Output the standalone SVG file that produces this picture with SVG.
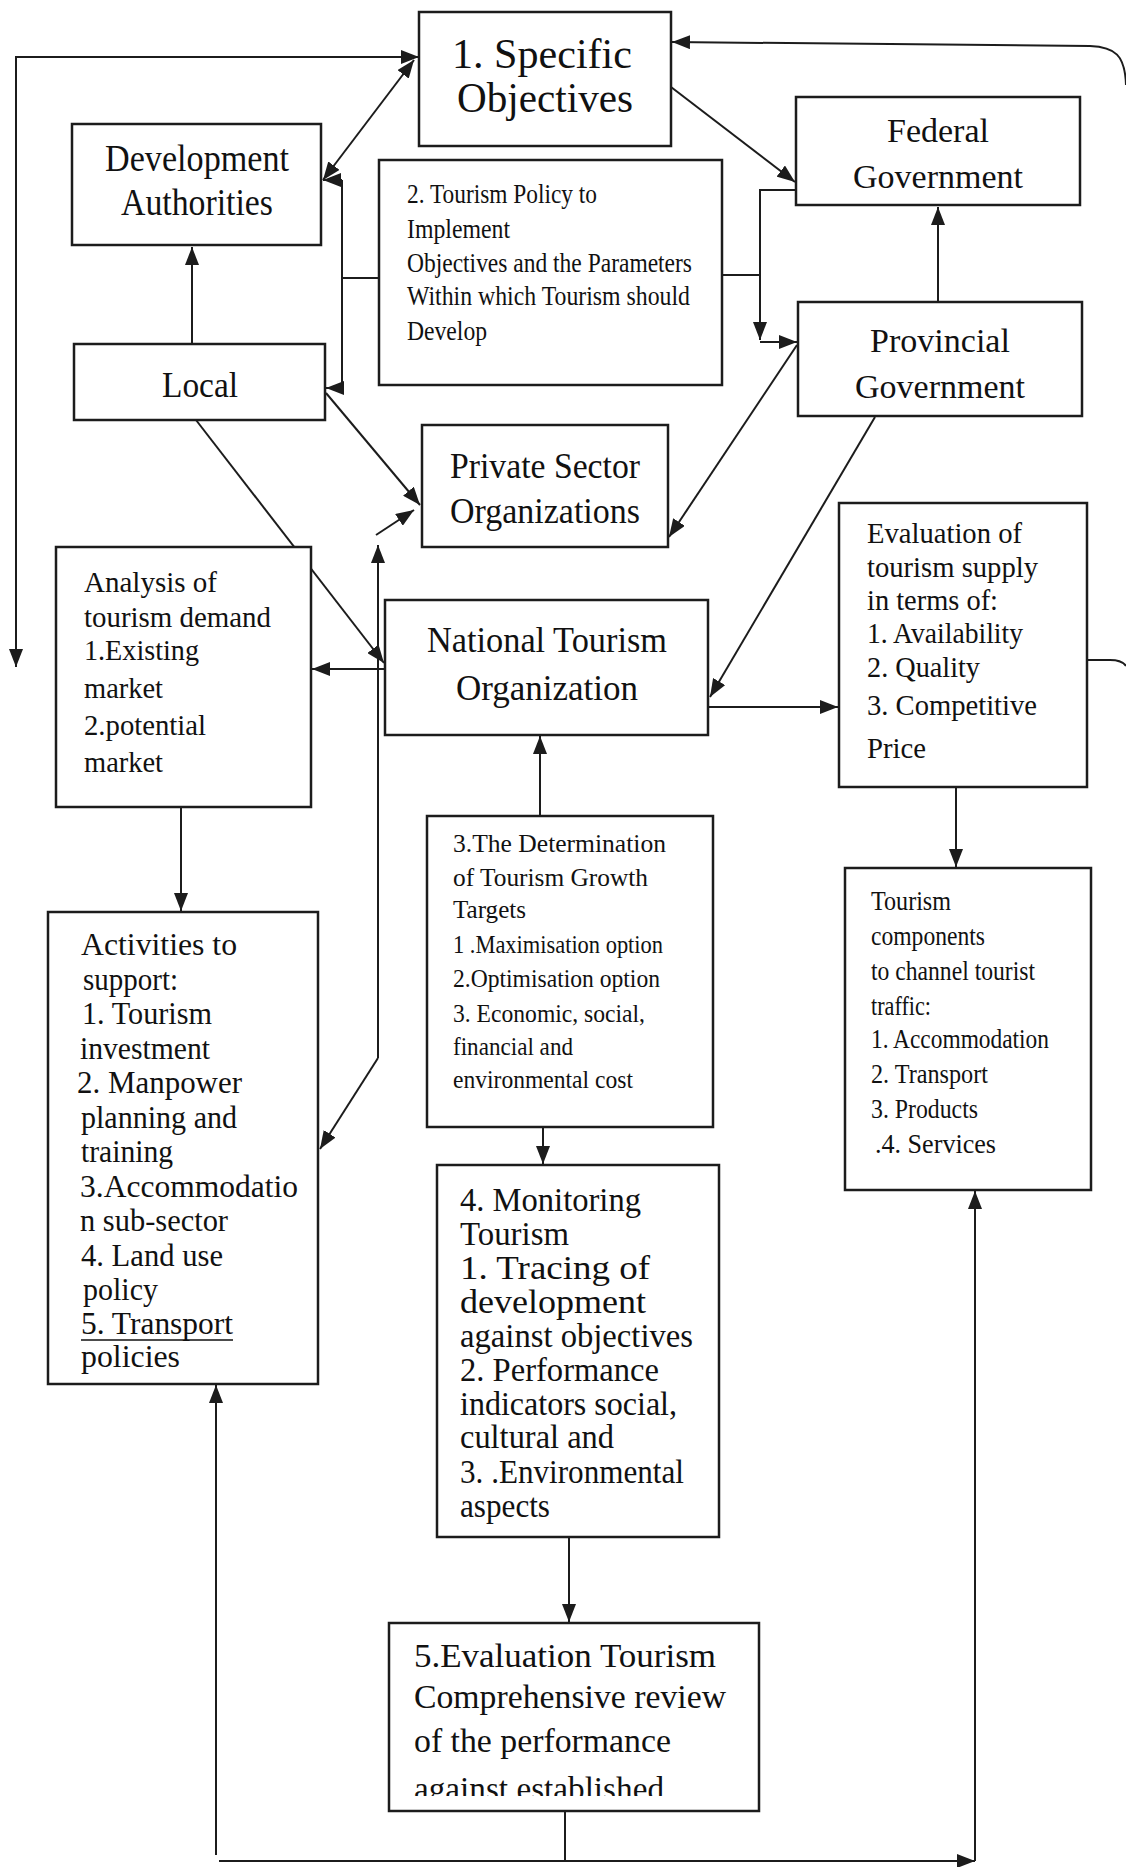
<svg xmlns="http://www.w3.org/2000/svg" width="1126" height="1867" viewBox="0 0 1126 1867">
<style>
.bx{fill:#fff;stroke:#1c1c1c;stroke-width:2.5}
.t{font-family:"Liberation Serif","Times New Roman",serif;fill:#111}
.c{text-anchor:middle}
.ln{fill:none;stroke:#1c1c1c;stroke-width:2}
.a{marker-end:url(#ah)}
.a2{marker-start:url(#ah);marker-end:url(#ah)}
</style>
<defs>
<marker id="ah" viewBox="0 0 18 14" refX="18" refY="7" markerWidth="18" markerHeight="14" markerUnits="userSpaceOnUse" orient="auto-start-reverse">
<path d="M0,0 L18,7 L0,14 Z" fill="#1c1c1c"/>
</marker>
<clipPath id="clip5"><rect x="389" y="1623" width="370" height="173"/></clipPath>
</defs>
<rect width="1126" height="1867" fill="#fff"/>

<g id="connectors">
<path class="ln a2" d="M419,57 H16 V667"/>
<path class="ln a" d="M1126,85 C1125,55 1115,47 1090,46 L672,42"/>
<path class="ln" d="M1087,660 H1110 Q1122,660 1126,666"/>
<path class="ln a2" d="M323,180 L414,60"/>
<path class="ln" d="M342,180 V388 M342,278 H379"/>
<path class="ln a" d="M342,180 H323"/>
<path class="ln a" d="M342,388 H326"/>
<path class="ln a" d="M192,344 V247"/>
<path class="ln a" d="M671,87 L795,182"/>
<path class="ln a" d="M796,190 H760 V340"/>
<path class="ln a" d="M760,342 H797"/>
<path class="ln" d="M722,275 H760"/>
<path class="ln a" d="M938,302 V207"/>
<path class="ln a" d="M797,345 L669,537"/>
<path class="ln a" d="M875,417 L710,697"/>
<path class="ln a" d="M708,707 H838"/>
<path class="ln a" d="M956,745 V867"/>
<path class="ln a" d="M326,393 L420,505"/>
<path class="ln a" d="M196,420 L384,663"/>
<path class="ln a" d="M385,669 H312"/>
<path class="ln a" d="M181,807 V911"/>
<path class="ln a" d="M378,1058 V545"/>
<path class="ln a" d="M378,1058 L320,1149"/>
<path class="ln a" d="M376,535 L414,510"/>
<path class="ln a" d="M540,816 V736"/>
<path class="ln a" d="M543,1127 V1164"/>
<path class="ln a" d="M569,1537 V1622"/>
<path class="ln" d="M565,1811 V1861"/>
<path class="ln a" d="M219,1861 H975"/>
<path class="ln a" d="M975,1861 V1191"/>
<path class="ln a" d="M216,1855 V1385"/>
</g>

<g id="n1">
<rect class="bx" x="419" y="12" width="252" height="134"/>
<text class="t c" x="542" y="68" font-size="42" textLength="180" lengthAdjust="spacingAndGlyphs">1. Specific</text>
<text class="t c" x="545" y="112" font-size="42" textLength="176" lengthAdjust="spacingAndGlyphs">Objectives</text>
</g>

<g id="n-dev">
<rect class="bx" x="72" y="124" width="249" height="121"/>
<text class="t c" x="197" y="171" font-size="37" textLength="184" lengthAdjust="spacingAndGlyphs">Development</text>
<text class="t c" x="197" y="215" font-size="37" textLength="152" lengthAdjust="spacingAndGlyphs">Authorities</text>
</g>

<g id="n-fed">
<rect class="bx" x="796" y="97" width="284" height="108"/>
<text class="t c" x="938" y="142" font-size="34">Federal</text>
<text class="t c" x="938" y="188" font-size="34" textLength="170" lengthAdjust="spacingAndGlyphs">Government</text>
</g>

<g id="n2">
<rect class="bx" x="379" y="160" width="343" height="225"/>
<text class="t" x="407" y="203" font-size="27" textLength="190" lengthAdjust="spacingAndGlyphs">2. Tourism Policy to</text>
<text class="t" x="407" y="238" font-size="27" textLength="103" lengthAdjust="spacingAndGlyphs">Implement</text>
<text class="t" x="407" y="272" font-size="27" textLength="285" lengthAdjust="spacingAndGlyphs">Objectives and the Parameters</text>
<text class="t" x="407" y="305" font-size="27" textLength="283" lengthAdjust="spacingAndGlyphs">Within which Tourism should</text>
<text class="t" x="407" y="340" font-size="27" textLength="80" lengthAdjust="spacingAndGlyphs">Develop</text>
</g>

<g id="n-prov">
<rect class="bx" x="798" y="302" width="284" height="114"/>
<text class="t c" x="940" y="352" font-size="34">Provincial</text>
<text class="t c" x="940" y="398" font-size="34" textLength="170" lengthAdjust="spacingAndGlyphs">Government</text>
</g>

<g id="n-local">
<rect class="bx" x="74" y="344" width="251" height="76"/>
<text class="t c" x="200" y="397" font-size="36" textLength="76" lengthAdjust="spacingAndGlyphs">Local</text>
</g>

<g id="n-private">
<rect class="bx" x="422" y="425" width="246" height="122"/>
<text class="t c" x="545" y="478" font-size="35" textLength="190" lengthAdjust="spacingAndGlyphs">Private Sector</text>
<text class="t c" x="545" y="523" font-size="35" textLength="190" lengthAdjust="spacingAndGlyphs">Organizations</text>
</g>

<g id="n-supply">
<rect class="bx" x="839" y="503" width="248" height="284"/>
<text class="t" x="867" y="543" font-size="29" textLength="155" lengthAdjust="spacingAndGlyphs">Evaluation of</text>
<text class="t" x="867" y="577" font-size="29" textLength="171" lengthAdjust="spacingAndGlyphs">tourism supply</text>
<text class="t" x="867" y="610" font-size="29" textLength="131" lengthAdjust="spacingAndGlyphs">in terms of:</text>
<text class="t" x="867" y="643" font-size="29" textLength="156" lengthAdjust="spacingAndGlyphs">1. Availability</text>
<text class="t" x="867" y="677" font-size="29" textLength="113" lengthAdjust="spacingAndGlyphs">2. Quality</text>
<text class="t" x="867" y="715" font-size="29" textLength="170" lengthAdjust="spacingAndGlyphs">3. Competitive</text>
<text class="t" x="867" y="758" font-size="29" textLength="59" lengthAdjust="spacingAndGlyphs">Price</text>
</g>

<g id="n-demand">
<rect class="bx" x="56" y="547" width="255" height="260"/>
<text class="t" x="84" y="592" font-size="29" textLength="133" lengthAdjust="spacingAndGlyphs">Analysis of</text>
<text class="t" x="84" y="627" font-size="29" textLength="187" lengthAdjust="spacingAndGlyphs">tourism demand</text>
<text class="t" x="84" y="660" font-size="29" textLength="115" lengthAdjust="spacingAndGlyphs">1.Existing</text>
<text class="t" x="84" y="698" font-size="29" textLength="79" lengthAdjust="spacingAndGlyphs">market</text>
<text class="t" x="84" y="735" font-size="29" textLength="122" lengthAdjust="spacingAndGlyphs">2.potential</text>
<text class="t" x="84" y="772" font-size="29" textLength="79" lengthAdjust="spacingAndGlyphs">market</text>
</g>

<g id="n-nto">
<rect class="bx" x="385" y="600" width="323" height="135"/>
<text class="t c" x="547" y="652" font-size="35" textLength="240" lengthAdjust="spacingAndGlyphs">National Tourism</text>
<text class="t c" x="547" y="700" font-size="35">Organization</text>
</g>

<g id="n3">
<rect class="bx" x="427" y="816" width="286" height="311"/>
<text class="t" x="453" y="852" font-size="26" textLength="213" lengthAdjust="spacingAndGlyphs">3.The Determination</text>
<text class="t" x="453" y="886" font-size="26" textLength="195" lengthAdjust="spacingAndGlyphs">of Tourism Growth</text>
<text class="t" x="453" y="918" font-size="26" textLength="73" lengthAdjust="spacingAndGlyphs">Targets</text>
<text class="t" x="453" y="953" font-size="26" textLength="210" lengthAdjust="spacingAndGlyphs">1 .Maximisation option</text>
<text class="t" x="453" y="987" font-size="26" textLength="207" lengthAdjust="spacingAndGlyphs">2.Optimisation option</text>
<text class="t" x="453" y="1022" font-size="26" textLength="192" lengthAdjust="spacingAndGlyphs">3. Economic, social,</text>
<text class="t" x="453" y="1055" font-size="26" textLength="120" lengthAdjust="spacingAndGlyphs">financial and</text>
<text class="t" x="453" y="1088" font-size="26" textLength="180" lengthAdjust="spacingAndGlyphs">environmental cost</text>
</g>

<g id="n-components">
<rect class="bx" x="845" y="868" width="246" height="322"/>
<text class="t" x="871" y="910" font-size="27" textLength="80" lengthAdjust="spacingAndGlyphs">Tourism</text>
<text class="t" x="871" y="945" font-size="27" textLength="114" lengthAdjust="spacingAndGlyphs">components</text>
<text class="t" x="871" y="980" font-size="27" textLength="164" lengthAdjust="spacingAndGlyphs">to channel tourist</text>
<text class="t" x="871" y="1015" font-size="27" textLength="60" lengthAdjust="spacingAndGlyphs">traffic:</text>
<text class="t" x="871" y="1048" font-size="27" textLength="178" lengthAdjust="spacingAndGlyphs">1. Accommodation</text>
<text class="t" x="871" y="1083" font-size="27" textLength="117" lengthAdjust="spacingAndGlyphs">2. Transport</text>
<text class="t" x="871" y="1118" font-size="27" textLength="107" lengthAdjust="spacingAndGlyphs">3. Products</text>
<text class="t" x="875" y="1153" font-size="27" textLength="121" lengthAdjust="spacingAndGlyphs">.4. Services</text>
</g>

<g id="n-activities">
<rect class="bx" x="48" y="912" width="270" height="472"/>
<text class="t" x="81" y="955" font-size="32" textLength="156" lengthAdjust="spacingAndGlyphs">Activities to</text>
<text class="t" x="83" y="990" font-size="32" textLength="95" lengthAdjust="spacingAndGlyphs">support:</text>
<text class="t" x="82" y="1024" font-size="32" textLength="130" lengthAdjust="spacingAndGlyphs">1. Tourism</text>
<text class="t" x="80" y="1059" font-size="32" textLength="130" lengthAdjust="spacingAndGlyphs">investment</text>
<text class="t" x="77" y="1093" font-size="32" textLength="165" lengthAdjust="spacingAndGlyphs">2. Manpower</text>
<text class="t" x="81" y="1128" font-size="32" textLength="156" lengthAdjust="spacingAndGlyphs">planning and</text>
<text class="t" x="81" y="1162" font-size="32" textLength="92" lengthAdjust="spacingAndGlyphs">training</text>
<text class="t" x="80" y="1197" font-size="32" textLength="218" lengthAdjust="spacingAndGlyphs">3.Accommodatio</text>
<text class="t" x="80" y="1231" font-size="32" textLength="148" lengthAdjust="spacingAndGlyphs">n sub-sector</text>
<text class="t" x="81" y="1266" font-size="32" textLength="142" lengthAdjust="spacingAndGlyphs">4. Land use</text>
<text class="t" x="83" y="1300" font-size="32" textLength="75" lengthAdjust="spacingAndGlyphs">policy</text>
<text class="t" x="81" y="1334" font-size="32" textLength="152" lengthAdjust="spacingAndGlyphs">5. Transport</text>
<line x1="81" y1="1340" x2="233" y2="1340" stroke="#111" stroke-width="1.5"/>
<text class="t" x="81" y="1367" font-size="32" textLength="99" lengthAdjust="spacingAndGlyphs">policies</text>
</g>

<g id="n4">
<rect class="bx" x="437" y="1165" width="282" height="372"/>
<text class="t" x="460" y="1211" font-size="33" textLength="181" lengthAdjust="spacingAndGlyphs">4. Monitoring</text>
<text class="t" x="460" y="1245" font-size="33" textLength="109" lengthAdjust="spacingAndGlyphs">Tourism</text>
<text class="t" x="460" y="1279" font-size="33" textLength="190" lengthAdjust="spacingAndGlyphs">1. Tracing of</text>
<text class="t" x="460" y="1313" font-size="33" textLength="186" lengthAdjust="spacingAndGlyphs">development</text>
<text class="t" x="460" y="1347" font-size="33" textLength="233" lengthAdjust="spacingAndGlyphs">against objectives</text>
<text class="t" x="460" y="1381" font-size="33" textLength="199" lengthAdjust="spacingAndGlyphs">2. Performance</text>
<text class="t" x="460" y="1415" font-size="33" textLength="217" lengthAdjust="spacingAndGlyphs">indicators social,</text>
<text class="t" x="460" y="1448" font-size="33" textLength="154" lengthAdjust="spacingAndGlyphs">cultural and</text>
<text class="t" x="460" y="1483" font-size="33" textLength="224" lengthAdjust="spacingAndGlyphs">3. .Environmental</text>
<text class="t" x="460" y="1517" font-size="33" textLength="90" lengthAdjust="spacingAndGlyphs">aspects</text>
</g>

<g id="n5">
<rect class="bx" x="389" y="1623" width="370" height="188"/>
<g clip-path="url(#clip5)">
<text class="t" x="414" y="1667" font-size="34" textLength="302" lengthAdjust="spacingAndGlyphs">5.Evaluation Tourism</text>
<text class="t" x="414" y="1708" font-size="34" textLength="312" lengthAdjust="spacingAndGlyphs">Comprehensive review</text>
<text class="t" x="414" y="1752" font-size="34" textLength="257" lengthAdjust="spacingAndGlyphs">of the performance</text>
<text class="t" x="414" y="1800" font-size="34" textLength="250" lengthAdjust="spacingAndGlyphs">against established</text>
</g>
</g>
</svg>
